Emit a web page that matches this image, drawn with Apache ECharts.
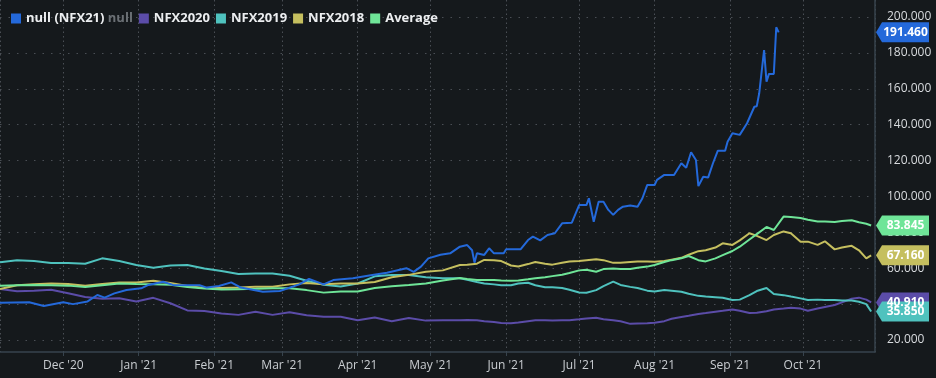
<!DOCTYPE html>
<html>
<head>
<meta charset="utf-8">
<script src="https://cdn.jsdelivr.net/npm/echarts@6/dist/echarts.min.js"></script>
<style>
  html, body { margin: 0; padding: 0; background: #15191c; }
  #chart { width: 936px; height: 378px; }
</style>
</head>
<body>
<div id="chart"></div>
<script>
  // 公共日期（NFX2020 / 2019 / 2018 / Average）
  const dates = [
    '2020-11-05', '2020-11-12', '2020-11-19', '2020-11-26', '2020-12-03', '2020-12-10', '2020-12-17', '2020-12-24', '2020-12-31',
    '2021-01-07', '2021-01-14', '2021-01-21', '2021-01-28',
    '2021-02-04', '2021-02-11', '2021-02-18', '2021-02-25',
    '2021-03-04', '2021-03-11', '2021-03-18', '2021-03-25',
    '2021-04-01', '2021-04-08', '2021-04-15', '2021-04-22', '2021-04-29',
    '2021-05-06', '2021-05-13', '2021-05-16', '2021-05-20', '2021-05-23', '2021-05-27', '2021-05-30',
    '2021-06-03', '2021-06-06', '2021-06-10', '2021-06-13', '2021-06-17', '2021-06-20', '2021-06-24', '2021-06-27',
    '2021-07-01', '2021-07-04', '2021-07-08', '2021-07-11', '2021-07-15', '2021-07-18', '2021-07-22', '2021-07-25', '2021-07-29',
    '2021-08-01', '2021-08-05', '2021-08-08', '2021-08-12', '2021-08-15', '2021-08-19', '2021-08-22', '2021-08-26', '2021-08-29',
    '2021-09-02', '2021-09-05', '2021-09-09', '2021-09-12', '2021-09-16', '2021-09-19', '2021-09-23', '2021-09-26', '2021-09-30',
    '2021-10-03', '2021-10-07', '2021-10-10', '2021-10-14', '2021-10-17', '2021-10-21', '2021-10-24', '2021-10-27', '2021-10-29'
  ];
  const nfx2020 = [
    48.4, 47.2, 47.5, 48, 46, 44, 43, 43.3, 41.5,
    43.5, 40.5, 36.5, 36.2,
    34.8, 34, 35.8, 34,
    35.5, 33.8, 33, 33,
    31, 32.5, 30.5, 32.2, 30.8,
    31, 31, 31.2, 31, 30.5, 30, 29.5,
    29.3, 29.8, 30.5, 31, 31, 30.8, 31, 31,
    31.5, 32, 32.4, 31.6, 31, 30.4, 29, 29.2, 29.4,
    29.6, 30.5, 31.8, 32.8, 33.5, 34.5, 35, 35.8, 36.3,
    37, 36.3, 35, 35.2, 36, 37, 37.5, 38, 37.5,
    36.3, 37.5, 38.4, 39.5, 41, 43, 43.6, 42.5, 40.91
  ];
  const nfx2019 = [
    63.3, 64.5, 64, 62.9, 62.9, 62.5, 65.5, 64, 61.8,
    60.3, 61.5, 61.8, 59.8,
    58.5, 56.8, 57, 57,
    55.8, 53, 50.8, 49.8,
    51.5, 55.5, 56.2, 56.2, 55,
    54.4, 54.4, 53.5, 52.3, 51.5, 51, 50.5,
    50.5, 51.5, 51.9, 50.5, 49.4, 49.4, 49, 48,
    46.5, 46.3, 47.8, 50, 52.5, 50.7, 49.6, 49, 47.5,
    47, 47.9, 47.5, 46.9, 45.8, 44.6, 44.2, 43.8, 43.5,
    42.3, 42.5, 45, 47.3, 49, 45.6, 45, 44.2, 43.2,
    42.3, 42.5, 42.3, 42.3, 42, 42, 41.3, 40, 35.85
  ];
  const nfx2018 = [
    48.4, 50.5, 51, 51.5, 51.2, 50.2, 51.2, 52.1, 52.1,
    53, 51.8, 50.1, 49,
    49, 49.3, 49.7, 49.7,
    51, 51.8, 51, 51.5,
    51.5, 52.3, 55, 56.3, 58,
    58.8, 61.8, 62, 62.5, 64.6, 64.5, 64,
    61.5, 61, 62.3, 63.5, 62.5, 62, 63, 63.7,
    64, 64.5, 65, 64.5, 63, 63, 63.5, 63.7, 63.7,
    63.6, 64, 64.8, 65.8, 67.5, 69.5, 70, 71.5, 73.9,
    73, 75.5, 79.5, 78, 75.7, 78.5, 80.5, 79.5, 74.8,
    74.8, 73, 75, 70.5, 71.5, 72.5, 70, 65.5, 67.16
  ];
  const average = [
    50.3, 50.5, 50.7, 50.5, 50.3, 49.5, 50.5, 51.5, 51.2,
    51, 50.8, 49.5, 48.7,
    48.1, 48.3, 48.5, 48.8,
    48.8, 47.8, 46.4, 47,
    47, 49, 50, 50.7, 51.5,
    53.2, 54.5, 54, 53.4, 53.4, 53.4, 53.2,
    53, 53.2, 53.8, 54.4, 55, 55.6, 56.4, 57.3,
    58.8, 59.2, 58, 59.5, 59.8, 59.5, 59.6, 60.2, 60.9,
    61.8, 63.5, 64.5, 65.5, 66.8, 64.5, 63.8, 65.5, 67.3,
    69.6, 72, 76, 79, 83, 81.3, 88.8, 88.5, 88,
    87, 86, 86, 85.8, 86.3, 86.7, 85.6, 84.8, 83.845
  ];

  // NFX21 单独日期（到 9 月 21 日结束）
  const nfx21Dates = [
    '2020-11-05', '2020-11-17', '2020-11-23', '2020-12-01', '2020-12-05', '2020-12-11', '2020-12-15', '2020-12-18', '2020-12-22', '2020-12-27',
    '2021-01-02', '2021-01-05', '2021-01-11', '2021-01-15', '2021-01-26', '2021-01-29',
    '2021-02-03', '2021-02-08', '2021-02-12', '2021-02-21', '2021-02-28',
    '2021-03-08', '2021-03-12', '2021-03-18', '2021-03-22', '2021-03-30',
    '2021-04-07', '2021-04-13', '2021-04-21', '2021-04-24', '2021-04-27', '2021-04-30',
    '2021-05-05', '2021-05-09', '2021-05-13', '2021-05-16', '2021-05-18', '2021-05-19', '2021-05-20', '2021-05-23', '2021-05-25', '2021-05-27', '2021-05-31',
    '2021-06-01', '2021-06-07', '2021-06-10', '2021-06-12', '2021-06-15', '2021-06-18', '2021-06-21', '2021-06-24', '2021-06-28',
    '2021-07-01', '2021-07-04', '2021-07-05', '2021-07-07', '2021-07-09', '2021-07-11', '2021-07-13', '2021-07-15', '2021-07-17', '2021-07-19', '2021-07-22', '2021-07-25', '2021-07-27', '2021-07-29',
    '2021-08-01', '2021-08-02', '2021-08-05', '2021-08-09', '2021-08-12', '2021-08-14', '2021-08-16', '2021-08-18', '2021-08-19', '2021-08-21', '2021-08-23', '2021-08-25', '2021-08-27', '2021-08-30', '2021-08-31',
    '2021-09-02', '2021-09-05', '2021-09-08', '2021-09-11', '2021-09-12', '2021-09-13', '2021-09-15', '2021-09-16', '2021-09-17', '2021-09-19', '2021-09-20', '2021-09-21'
  ];
  const nfx21 = [
    40.8, 41, 39, 41, 40, 41.5, 45.1, 43.6, 46, 47.9,
    48.8, 50.7, 52.5, 50.7, 50.5, 49.2,
    50.1, 52.1, 49.2, 46.9, 47.3,
    51, 54, 51, 53.4, 54.4,
    56.2, 57.5, 60, 58, 60.9, 65.5,
    67.5, 68.3, 72, 72.9, 70, 63.1, 68.3, 67.4, 71.1, 68.3, 68.3,
    70.6, 70.6, 75.7, 77.6, 75.5, 78.5, 79.5, 85, 85.4,
    95.2, 95.2, 99, 85.9, 97.1, 97.1, 92.5, 89.7, 92.5, 94.3, 95, 94.3, 99, 106.4,
    106.4, 109.2, 112, 112, 118.5, 116, 124.6, 120.3, 105.8, 111, 110.5, 118.5, 125.5, 125.5, 130.5,
    135.2, 134.3, 140.8, 150, 150.3, 157.5, 181.6, 164, 168.3, 168.3, 194.3, 191.46
  ];

  const xStart = '2020-11-05';
  const xEnd = '2021-10-30 14:00:00';
  const yTicks = [20, 200, 20]; // min, max, interval
  const monthNames = ['Jan', 'Feb', 'Mar', 'Apr', 'May', 'Jun', 'Jul', 'Aug', 'Sep', 'Oct', 'Nov', 'Dec'];
  const legendNames = ['null (NFX21)', 'NFX2020', 'NFX2019', 'NFX2018', 'Average'];

  const chart = echarts.init(document.getElementById('chart'));

  function pairs(ds, vs) {
    return ds.map((d, i) => [d, vs[i]]);
  }

  // 右侧价格标签
  function tag(ds, vs, color) {
    const last = vs[vs.length - 1];
    return {
      silent: true,
      symbol: 'path://M0,10L6,0L53,0L53,20L6,20Z',
      symbolSize: [53, 20],
      symbolKeepAspect: false,
      symbolOffset: [27.5, 0],
      itemStyle: { color: color },
      label: {
        show: true,
        position: 'inside',
        offset: [3, 0],
        color: '#ffffff',
        fontSize: 12,
        fontWeight: 'bold',
        fontFamily: 'Open Sans',
        formatter: p => p.value.toFixed(3)
      },
      data: [{ coord: [xEnd, last], value: last }]
    };
  }

  function line(name, ds, vs, color) {
    return {
      name: name,
      type: 'line',
      xAxisIndex: 0,
      yAxisIndex: 0,
      data: pairs(ds, vs),
      showSymbol: false,
      symbol: 'none',
      color: color,
      lineStyle: { width: 2, color: color },
      emphasis: { disabled: true },
      markPoint: tag(ds, vs, color)
    };
  }

  const option = {
    backgroundColor: '#15191c',
    animation: false,
    textStyle: { fontFamily: 'Open Sans' },
    legend: {
      data: legendNames,
      left: 11,
      top: 12,
      padding: 0,
      itemWidth: 10,
      itemHeight: 10,
      itemGap: 6,
      icon: 'rect',
      textStyle: {
        color: '#eceef0',
        fontSize: 13,
        fontWeight: 'bold',
        fontFamily: 'Open Sans',
        rich: {
          g: { color: '#6b7075', fontSize: 13, fontWeight: 'bold', fontFamily: 'Open Sans' }
        }
      },
      formatter: name => name === 'null (NFX21)' ? name + ' {g|null}' : name
    },
    grid: [
      { left: 0, right: 61, top: 17, bottom: 38 },
      { left: 0, right: 61, top: 0, bottom: 26 }
    ],
    xAxis: [
      {
        type: 'time', gridIndex: 0, min: xStart, max: xEnd, show: false
      },
      {
        type: 'time', gridIndex: 1, min: xStart, max: xEnd,
        minInterval: 28 * 86400000,
        maxInterval: 31 * 86400000,
        axisLine: { lineStyle: { color: '#37434d', width: 1.5 } },
        axisTick: { show: true, length: 4, lineStyle: { color: '#37434d' } },
        axisLabel: {
          color: '#c9cdd1', fontSize: 12, margin: 8,
          formatter: v => {
            const d = new Date(v);
            return monthNames[d.getMonth()] + " '" + String(d.getFullYear()).slice(2);
          }
        },
        splitLine: { show: true, lineStyle: { color: '#4a4f55', type: [1.5, 3] } }
      }
    ],
    yAxis: [
      {
        type: 'value', gridIndex: 0, position: 'right',
        min: yTicks[0], max: yTicks[1], interval: yTicks[2],
        axisLine: { show: false },
        axisTick: { show: false },
        axisLabel: {
          color: '#d8dbde', fontSize: 12, margin: 12,
          formatter: v => v.toFixed(3)
        },
        splitLine: { show: true, lineStyle: { color: '#4a4f55', type: [1.5, 7] } }
      },
      {
        type: 'value', gridIndex: 1, position: 'right',
        axisLine: { show: true, lineStyle: { color: '#37434d', width: 1.5 } },
        axisTick: { show: false },
        axisLabel: { show: false },
        splitLine: { show: false }
      }
    ],
    series: [
      line('NFX2020', dates, nfx2020, '#5b4ca8'),
      line('NFX2019', dates, nfx2019, '#4fc2be'),
      line('NFX2018', dates, nfx2018, '#c5bf5f'),
      line('Average', dates, average, '#6fe598'),
      line('null (NFX21)', nfx21Dates, nfx21, '#2469da')
    ]
  };

  chart.setOption(option);
</script>
</body>
</html>
